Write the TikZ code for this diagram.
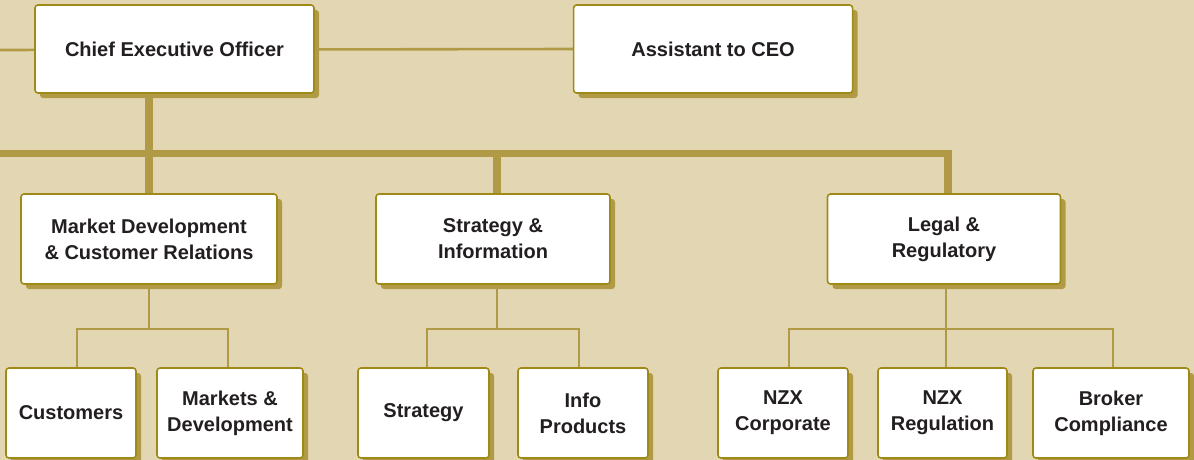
\documentclass[tikz,border=0pt]{standalone}
\usepackage{fontspec}
\setmainfont{Liberation Sans}
\usetikzlibrary{positioning,shadows,backgrounds}
\definecolor{paper}{HTML}{E3D7B3}
\definecolor{olive}{HTML}{B09A45}
\definecolor{rim}{HTML}{9F8A18}
\definecolor{ink}{HTML}{231F20}

\begin{document}
\begin{tikzpicture}[x=1pt,y=-1pt,box/.style={draw=rim,line width=1.6pt,fill=white,rounded corners=3pt,align=center,text=ink,font=\bfseries\fontsize{20}{26}\selectfont,inner sep=0pt,minimum height=90pt,drop shadow={shadow xshift=5pt,shadow yshift=-5pt,fill=olive,opacity=1}},unit/.style={box,minimum height=90pt},trunk/.style={draw=olive,line width=7.5pt},twig/.style={draw=olive,line width=2.6pt}]
\useasboundingbox (0,0) rectangle (1194,460);
% top row
\node[box,minimum width=279pt,minimum height=88pt] (ceo) at (174.5,49) {Chief Executive Officer};
\node[box,minimum width=279pt,minimum height=88pt,right=258pt of ceo] (asst) {Assistant to CEO};
% divisions
\node[box,minimum width=256pt] (mdcr) at (149,239) {Market Development\\\& Customer Relations};
\node[box,minimum width=234pt] (strinf) at (493,239) {Strategy \&\\Information};
\node[box,minimum width=233pt] (legal) at (944,239) {Legal \&\\Regulatory};
% teams
\node[unit,minimum width=130pt] (cust) at (71,413) {Customers};
\node[unit,minimum width=146pt] (mktdev) at (230,413) {Markets \&\\Development};
\node[unit,minimum width=131pt] (strat) at (423.5,413) {Strategy};
\node[unit,minimum width=130pt] (info) at (583,413) {Info\\Products};
\node[unit,minimum width=130pt] (nzxcorp) at (783,413) {NZX\\Corporate};
\node[unit,minimum width=129pt] (nzxreg) at (942.5,413) {NZX\\Regulation};
\node[unit,minimum width=156pt] (broker) at (1111,413) {Broker\\Compliance};
\begin{scope}[on background layer]
\fill[paper] (0,0) rectangle (1194,460);
\coordinate (rowA) at (0,50);
\coordinate (rowB) at (0,153.5);
\draw[twig] (rowA) -- (asst.west);
\draw[trunk] (rowB) -| ([xshift=4pt]legal.north);
\draw[trunk] (ceo.south -| mdcr.north) -- (mdcr.north);
\draw[trunk] ([xshift=4pt]strinf.north) -- ([xshift=4pt]strinf.north |- rowB);
\foreach \t/\d in {cust/6,mktdev/-2} \draw[twig] (mdcr.south) -- ++(0,44) -| ([xshift=\d pt]\t.north);
\foreach \t/\d in {strat/3.5,info/-4} \draw[twig] ([xshift=4pt]strinf.south) -- ++(0,44) -| ([xshift=\d pt]\t.north);
\foreach \t/\d in {nzxcorp/6,nzxreg/3.5,broker/2} \draw[twig] ([xshift=2pt]legal.south) -- ++(0,44) -| ([xshift=\d pt]\t.north);
\end{scope}
\end{tikzpicture}
\end{document}
